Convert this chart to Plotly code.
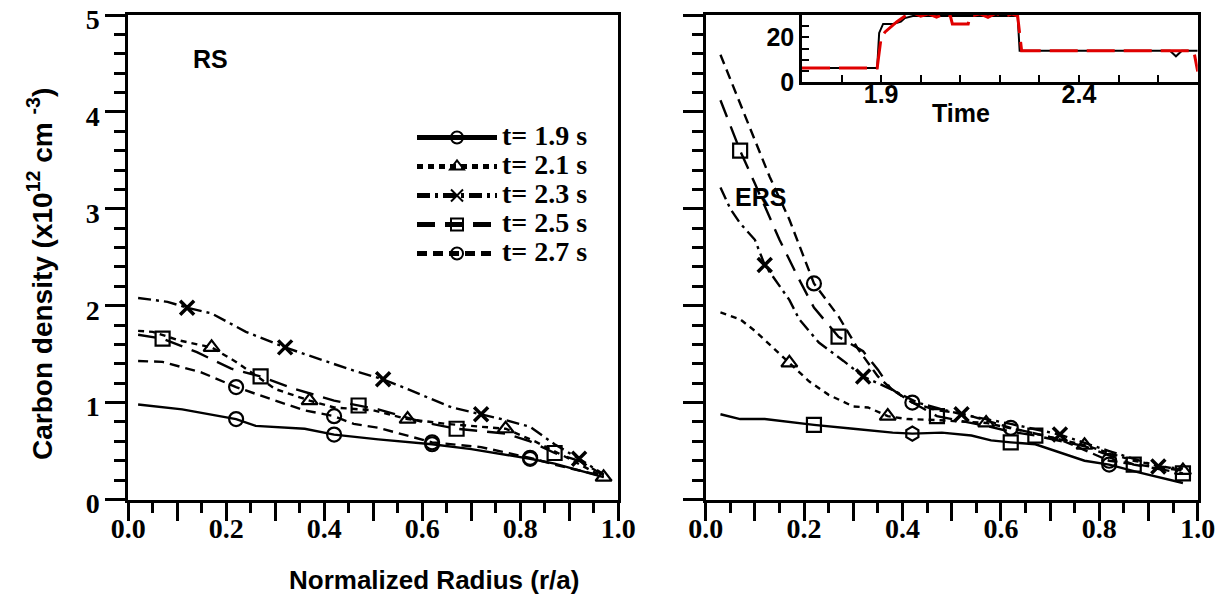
import plotly.graph_objects as go

# ---------------- data: RS panel (left) ----------------
rs_x_19 = [0.02, 0.11, 0.22, 0.26, 0.36, 0.42, 0.51, 0.62, 0.70, 0.82, 0.87, 0.97]
rs_y_19 = [0.98, 0.93, 0.83, 0.76, 0.73, 0.67, 0.62, 0.57, 0.52, 0.42, 0.37, 0.23]
rs_m_19 = [0.22, 0.42, 0.62, 0.82]

rs_x_21 = [0.02, 0.05, 0.105, 0.17, 0.22, 0.30, 0.37, 0.42, 0.50, 0.57, 0.65, 0.77, 0.83, 0.90, 0.97]
rs_y_21 = [1.74, 1.73, 1.64, 1.57, 1.42, 1.14, 1.02, 0.95, 0.92, 0.83, 0.78, 0.73, 0.60, 0.42, 0.23]
rs_m_21 = [0.17, 0.37, 0.57, 0.77, 0.97]

rs_x_23 = [0.02, 0.08, 0.12, 0.17, 0.24, 0.32, 0.36, 0.46, 0.52, 0.56, 0.66, 0.72, 0.77, 0.82, 0.87, 0.92, 0.97]
rs_y_23 = [2.08, 2.04, 1.98, 1.92, 1.73, 1.57, 1.50, 1.33, 1.24, 1.16, 0.95, 0.88, 0.82, 0.75, 0.57, 0.42, 0.26]
rs_m_23 = [0.12, 0.32, 0.52, 0.72, 0.92]

rs_x_25 = [0.02, 0.07, 0.14, 0.21, 0.27, 0.34, 0.42, 0.47, 0.51, 0.60, 0.67, 0.77, 0.82, 0.87, 0.92, 0.97]
rs_y_25 = [1.70, 1.66, 1.52, 1.35, 1.27, 1.14, 1.02, 0.97, 0.93, 0.80, 0.73, 0.68, 0.60, 0.48, 0.40, 0.25]
rs_m_25 = [0.07, 0.27, 0.47, 0.67, 0.87]

rs_x_27 = [0.02, 0.07, 0.15, 0.22, 0.30, 0.36, 0.42, 0.46, 0.51, 0.62, 0.72, 0.82, 0.87, 0.97]
rs_y_27 = [1.43, 1.42, 1.31, 1.16, 1.02, 0.92, 0.86, 0.78, 0.74, 0.59, 0.54, 0.43, 0.36, 0.24]
rs_m_27 = [0.22, 0.42, 0.62, 0.82]

# ---------------- data: ERS panel (right) ----------------
ers_x_19 = [0.03, 0.07, 0.12, 0.22, 0.30, 0.38, 0.42, 0.48, 0.54, 0.58, 0.62, 0.67, 0.77, 0.82, 0.88, 0.97]
ers_y_19 = [0.88, 0.83, 0.83, 0.77, 0.73, 0.69, 0.68, 0.69, 0.66, 0.61, 0.59, 0.57, 0.40, 0.36, 0.28, 0.17]
ers_m_19 = [0.22, 0.42, 0.62, 0.82]

ers_x_21 = [0.03, 0.07, 0.10, 0.14, 0.17, 0.21, 0.25, 0.30, 0.33, 0.37, 0.41, 0.47, 0.57, 0.67, 0.77, 0.87, 0.97]
ers_y_21 = [1.93, 1.86, 1.74, 1.55, 1.41, 1.22, 1.08, 0.96, 0.95, 0.86, 0.83, 0.82, 0.79, 0.68, 0.56, 0.40, 0.30]
ers_m_21 = [0.17, 0.37, 0.57, 0.77, 0.97]

ers_x_23 = [0.03, 0.05, 0.07, 0.10, 0.12, 0.17, 0.19, 0.23, 0.28, 0.32, 0.38, 0.43, 0.48, 0.52, 0.62, 0.72, 0.82, 0.92, 0.97]
ers_y_23 = [3.22, 3.00, 2.85, 2.68, 2.42, 2.06, 1.86, 1.62, 1.43, 1.27, 1.13, 1.00, 0.93, 0.88, 0.78, 0.67, 0.50, 0.34, 0.32]
ers_m_23 = [0.12, 0.32, 0.52, 0.72, 0.92]

ers_x_25 = [0.03, 0.07, 0.10, 0.15, 0.19, 0.22, 0.27, 0.32, 0.35, 0.375, 0.41, 0.47, 0.57, 0.62, 0.67, 0.77, 0.87, 0.97]
ers_y_25 = [4.12, 3.60, 3.26, 2.68, 2.27, 1.98, 1.68, 1.53, 1.34, 1.15, 1.03, 0.86, 0.76, 0.70, 0.66, 0.55, 0.36, 0.27]
ers_m_25 = [0.07, 0.27, 0.47, 0.67, 0.87, 0.97]

ers_x_27 = [0.03, 0.056, 0.073, 0.10, 0.13, 0.17, 0.22, 0.27, 0.31, 0.35, 0.38, 0.42, 0.47, 0.52, 0.62, 0.72, 0.82, 0.92, 0.97]
ers_y_27 = [4.59, 4.26, 4.05, 3.71, 3.33, 2.89, 2.23, 1.89, 1.55, 1.27, 1.13, 1.00, 0.92, 0.89, 0.74, 0.62, 0.40, 0.33, 0.30]
ers_m_27 = [0.22, 0.42, 0.62, 0.82]

# ---------------- data: inset (time trace) ----------------
ins_t_black = [1.70, 1.89, 1.895, 1.905, 1.93, 1.95, 1.96, 1.98, 2.05, 2.10, 2.15, 2.20, 2.245, 2.25, 2.30, 2.50, 2.63, 2.645, 2.66, 2.70]
ins_v_black = [6.3, 6.3, 22.0, 26.0, 26.0, 27.0, 28.6, 29.5, 29.5, 29.5, 29.5, 29.5, 29.5, 14.0, 14.0, 14.0, 14.0, 11.5, 14.0, 14.0]
ins_t_red = [1.70, 1.89, 1.90, 1.91, 1.94, 1.96, 1.98, 2.00, 2.02, 2.04, 2.06, 2.075, 2.08, 2.12, 2.125, 2.15, 2.17, 2.19, 2.21, 2.23, 2.245, 2.255, 2.30, 2.50, 2.69, 2.70]
ins_v_red = [6.3, 6.3, 20.0, 22.4, 27.0, 29.5, 31.0, 29.5, 30.5, 29.0, 30.5, 29.5, 26.0, 26.0, 29.5, 30.5, 29.0, 30.8, 29.2, 30.5, 29.5, 14.0, 14.0, 14.0, 14.0, 4.7]

labels = ["t= 1.9 s", "t= 2.1 s", "t= 2.3 s", "t= 2.5 s", "t= 2.7 s"]

SERIF = "Liberation Serif"
SANS = "Liberation Sans"

# the page body has an 8px margin, so the figure is drawn 8px in from the corner
W, H = 1217, 593


def px(v):
    return v / W


def py(v):
    return 1 - v / H


styles = [
    dict(dash="solid", symbol="circle-open"),
    dict(dash="6px,5px", symbol="triangle-up-open"),
    dict(dash="13px,5px,3px,5px", symbol="x-thin-open"),
    dict(dash="18px,10px", symbol="square-open"),
    dict(dash="10px,6px", symbol="circle-open"),
]


def curve(xs, ys, marks, k, xa, ya, legend, symbols=None):
    sizes = [14 if any(abs(x - m) < 1e-9 for m in marks) else 0 for x in xs]
    sym = styles[k]["symbol"]
    if symbols:
        sym = [symbols.get(x, sym) for x in xs]
    lw = 3.5 if styles[k]["symbol"] == "x-thin-open" else 2.2
    return go.Scatter(
        x=xs, y=ys, mode="lines+markers", name=labels[k], showlegend=legend,
        xaxis=xa, yaxis=ya,
        line=dict(color="black", width=2.4, dash=styles[k]["dash"]),
        marker=dict(size=sizes, symbol=sym, color="black", opacity=1,
                    line=dict(color="black", width=lw)),
    )


fig = go.Figure()
rs = [(rs_x_19, rs_y_19, rs_m_19), (rs_x_21, rs_y_21, rs_m_21), (rs_x_23, rs_y_23, rs_m_23),
      (rs_x_25, rs_y_25, rs_m_25), (rs_x_27, rs_y_27, rs_m_27)]
for k, (xs, ys, ms) in enumerate(rs):
    fig.add_trace(curve(xs, ys, ms, k, "x", "y", True))

ers = [(ers_x_19, ers_y_19, ers_m_19), (ers_x_21, ers_y_21, ers_m_21), (ers_x_23, ers_y_23, ers_m_23),
       (ers_x_25, ers_y_25, ers_m_25), (ers_x_27, ers_y_27, ers_m_27)]
for k, (xs, ys, ms) in enumerate(ers):
    syms = None
    if k == 0:
        syms = {0.22: "square-open", 0.42: "hexagon-open", 0.62: "square-open", 0.82: "circle-open"}
    fig.add_trace(curve(xs, ys, ms, k, "x2", "y2", False, syms))

fig.add_trace(go.Scatter(x=ins_t_black, y=ins_v_black, mode="lines", showlegend=False,
                         xaxis="x3", yaxis="y3", line=dict(color="black", width=2)))
fig.add_trace(go.Scatter(x=ins_t_red, y=ins_v_red, mode="lines", showlegend=False,
                         xaxis="x3", yaxis="y3",
                         line=dict(color="#e00000", width=3, dash="28px,9px")))

tickfont = dict(family=SERIF, size=28, color="black", weight="bold")
xcommon = dict(range=[0, 1], dtick=0.1, tick0=0, ticklabelstep=2, tickformat=".1f",
               ticks="outside", ticklen=18, tickwidth=2.5, tickcolor="black",
               ticklabelstandoff=-16, ticklabeloverflow="allow",
               showline=True, linewidth=3, linecolor="black", mirror=True,
               showgrid=False, zeroline=False, tickfont=tickfont,
               minor=dict(dtick=0.05, tick0=0, ticks="outside", ticklen=10, tickwidth=2.5,
                          tickcolor="black", showgrid=False))
ycommon = dict(range=[0, 5], dtick=1, tick0=0, ticks="outside", ticklen=20, tickwidth=2.5,
               tickcolor="black", showline=True, linewidth=3, linecolor="black", mirror=True,
               ticklabeloverflow="allow", ticklabelshift=4,
               showgrid=False, zeroline=False, tickfont=tickfont,
               minor=dict(dtick=0.2, tick0=0, ticks="outside", ticklen=11, tickwidth=2.5,
                          tickcolor="black", showgrid=False))
ydom = [py(491.5), py(7)]
insfont = dict(family=SANS, size=25, color="black", weight="bold")

fig.update_layout(
    width=W, height=H,
    template="none",
    paper_bgcolor="white", plot_bgcolor="white",
    margin=dict(l=0, r=0, t=0, b=0),
    font=dict(family=SANS, color="black"),
    xaxis=dict(domain=[px(120.3), px(610.3)], anchor="y", **xcommon),
    yaxis=dict(domain=ydom, anchor="x", **ycommon),
    xaxis2=dict(domain=[px(697.7), px(1189.7)], anchor="y2", **xcommon),
    yaxis2=dict(domain=ydom, anchor="x2", showticklabels=False, **ycommon),
    xaxis3=dict(domain=[px(794), px(1189.7)], anchor="y3", range=[1.7, 2.7],
                dtick=0.1, tick0=1.9, ticklabelstep=5, tickformat=".1f",
                ticks="inside", ticklen=7, ticklabelstandoff=-12, ticklabeloverflow="allow",
                tickwidth=2, tickcolor="black", showline=True, linewidth=2.5, linecolor="black",
                mirror=True, showgrid=False, zeroline=False, tickfont=insfont),
    yaxis3=dict(domain=[py(74), py(7)], anchor="x3", range=[0, 30],
                dtick=5, tick0=0, ticklabelstep=4, ticks="inside", ticklen=7,
                ticklabeloverflow="allow",
                tickwidth=2, tickcolor="black", showline=True, linewidth=2.5, linecolor="black",
                mirror=True, showgrid=False, zeroline=False, tickfont=insfont),
    legend=dict(x=px(404), y=py(110), xanchor="left", yanchor="top", bgcolor="rgba(0,0,0,0)",
                font=dict(family=SERIF, size=20, color="black", weight="bold"),
                itemsizing="constant", itemwidth=80, tracegroupgap=0),
    annotations=[
        dict(text="<b>RS</b>", x=px(202), y=py(51), xref="paper", yref="paper",
             xanchor="center", yanchor="middle", showarrow=False,
             font=dict(family=SANS, size=25, color="black")),
        dict(text="<b>ERS</b>", x=px(752), y=py(189), xref="paper", yref="paper",
             xanchor="center", yanchor="middle", showarrow=False,
             font=dict(family=SANS, size=25, color="black")),
        dict(text="<b>Time</b>", x=px(953), y=py(105), xref="paper", yref="paper",
             xanchor="center", yanchor="middle", showarrow=False,
             font=dict(family=SANS, size=25, color="black")),
        dict(text="<b>Carbon density (x10<sup>12</sup> cm <sup>-3</sup>)</b>",
             x=px(32), y=py(266), xref="paper", yref="paper", textangle=-90,
             xanchor="center", yanchor="middle", showarrow=False,
             font=dict(family=SANS, size=28, color="black")),
        dict(text="<b>Normalized Radius (r/a)</b>", x=px(426), y=py(572),
             xref="paper", yref="paper", xanchor="center", yanchor="middle", showarrow=False,
             font=dict(family=SANS, size=26, color="black")),
    ],
)
for tr in fig.data[:5]:
    tr.name = "<span style='font-size:28px'>" + tr.name + "</span>"

fig.write_html("out.html")
